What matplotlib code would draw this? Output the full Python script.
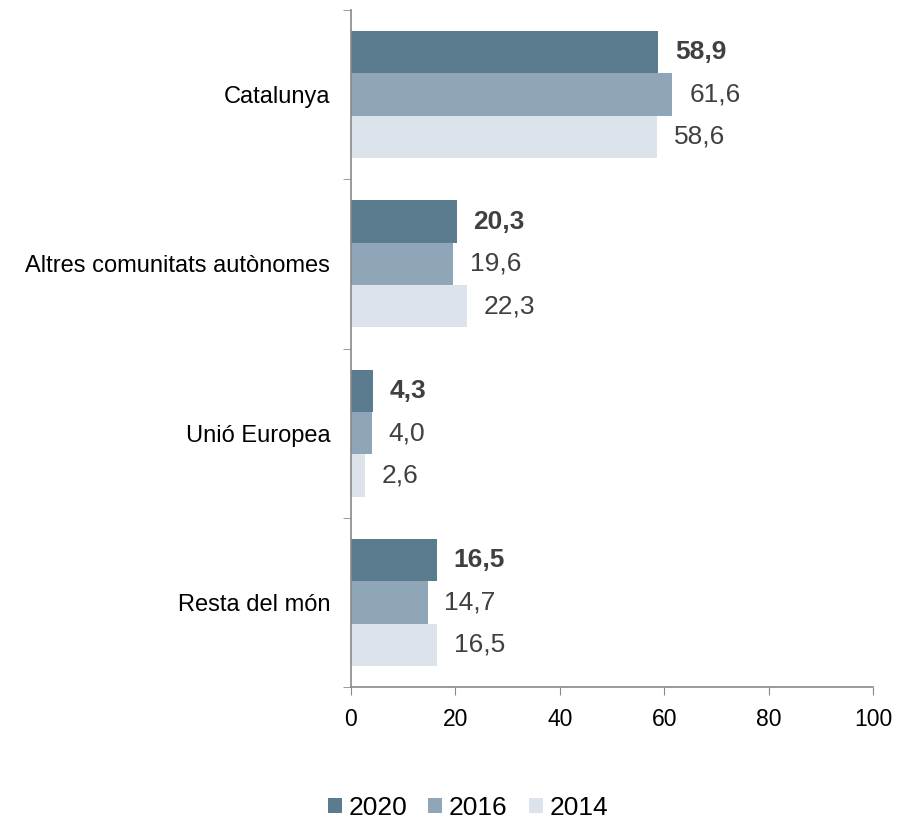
import matplotlib.pyplot as plt
import numpy as np

plt.rcParams['font.family'] = ['Liberation Sans', 'DejaVu Sans']

# dades
categories = ['Catalunya', 'Altres comunitats autònomes', 'Unió Europea', 'Resta del món']
years = ['2020', '2016', '2014']
v2020 = [58.9, 20.3, 4.3, 16.5]
v2016 = [61.6, 19.6, 4.0, 14.7]
v2014 = [58.6, 22.3, 2.6, 16.5]
colors = ['#5B7B8E', '#8FA5B8', '#DCE3EA']

fig = plt.figure(figsize=(9.15, 8.21), dpi=100)
ax = fig.add_axes([0.3836, 0.1632, 0.5704, 0.8246])

y = np.arange(len(categories))
h = 0.25
series = [v2020, v2016, v2014]
for k, vals in enumerate(series):
    pos = y + (k - 1) * h
    ax.barh(pos, vals, height=h, color=colors[k], label=years[k])
    for p, v in zip(pos, vals):
        ax.annotate(f'{v:.1f}'.replace('.', ','), (v, p), xytext=(12, 0),
                    textcoords='offset points', va='center', ha='left',
                    fontsize=19, color='#404040',
                    fontweight='bold' if k == 0 else 'normal')

ax.set_xlim(0, 100)
ax.set_ylim(3.5, -0.5)
ax.set_xticks([0, 20, 40, 60, 80, 100])
ax.set_yticks(y)
ax.set_yticklabels(categories)
ax.set_yticks(np.arange(-0.5, 4, 1), minor=True)
ax.tick_params(axis='y', which='major', length=0, labelsize=17, pad=15)
ax.tick_params(axis='y', which='minor', length=6, color='#898989')
ax.tick_params(axis='x', length=6, color='#898989', labelsize=16.5, pad=9)

for s in ['top', 'right']:
    ax.spines[s].set_visible(False)
for s in ['left', 'bottom']:
    ax.spines[s].set_color('#898989')
    ax.spines[s].set_linewidth(1.2)

fig.legend(loc='center', bbox_to_anchor=(0.5115, 0.016), ncol=3, frameon=False,
           fontsize=19, handlelength=0.53, handleheight=0.53, handletextpad=0.25,
           columnspacing=0.8, borderpad=0)

fig.savefig('out.png', dpi=100)
